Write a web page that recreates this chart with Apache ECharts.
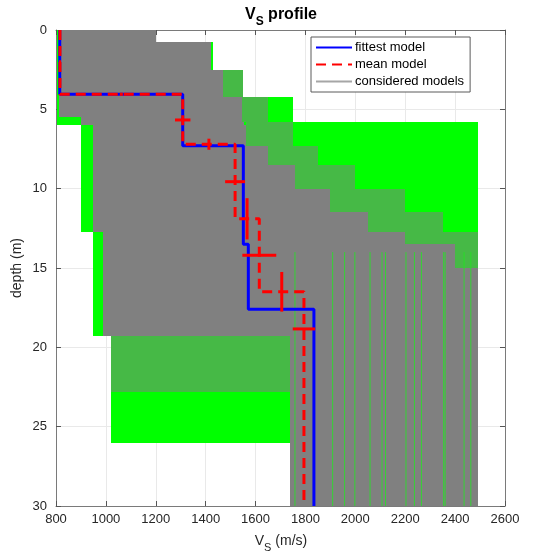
<!DOCTYPE html>
<html>
<head>
<meta charset="utf-8">
<script src="https://cdn.jsdelivr.net/npm/echarts@6/dist/echarts.min.js"></script>
<style>
  html, body { margin: 0; padding: 0; background: #fff; }
  #chart { width: 535px; height: 555px; }
</style>
</head>
<body>
<div id="chart"></div>
<script>
// layered models: top depth of each layer (m) and its shear velocity (m/s)
const fittestTop = [0, 4.05, 7.3, 13.5, 17.6];
const fittestVs = [815, 1308, 1551, 1571, 1834];
const meanTop = [0, 4.05, 7.2, 11.9, 16.5];
const meanVs = [816, 1308, 1518, 1615, 1794];
const maxDepth = 30;

// spread of the mean model: velocity bars at mid layer, depth bars at interfaces
const vsBarDepth = [2.0, 5.67, 9.56, 14.2, 18.84];
const vsBarStd = [4, 31, 40, 68, 45];
const depthBarVs = [1062, 1413, 1566, 1705];
const depthBarDepth = [4.05, 7.2, 11.9, 16.5];
const depthBarStd = [0.1, 0.35, 1.3, 1.25];

// range covered by the considered models (green), by depth slab
const rangeTop = [0, 0.77, 2.5, 4.2, 5.8, 6.0, 12.7, 19.3, 26.0];
const rangeBot = [0.77, 2.5, 4.2, 5.8, 6.0, 12.7, 19.3, 26.0, 30];
const rangeMin = [805, 805, 805, 805, 805, 900, 950, 1020, 1738];
const rangeMax = [1200, 1430, 1550, 1752, 2490, 2490, 2490, 2490, 2490];

// where the considered model lines pile up into solid gray
const denseTop = [0, 0.77, 2.5, 4.2, 5.5, 5.8, 6.0, 7.3, 8.5, 10, 11.5, 12.7, 13.5, 15, 19.3];
const denseBot = [0.77, 2.5, 4.2, 5.5, 5.8, 6.0, 7.3, 8.5, 10, 11.5, 12.7, 13.5, 15, 19.3, 30];
const denseMin = [812, 812, 812, 812, 900, 900, 950, 950, 950, 950, 950, 990, 990, 990, 1738];
const denseMax = [1200, 1420, 1470, 1545, 1545, 1555, 1560, 1650, 1760, 1900, 2050, 2200, 2400, 2490, 2490];

// sparser lines: gray and green mixed
const mixTop = [2.5, 4.2, 5.8, 7.3, 8.5, 10, 11.5, 12.7, 13.5, 19.3];
const mixBot = [4.2, 5.8, 7.3, 8.5, 10, 11.5, 12.7, 13.5, 15, 22.8];
const mixMin = [1470, 1545, 1560, 1650, 1760, 1900, 2050, 2200, 2400, 1020];
const mixMax = [1550, 1650, 1750, 1850, 2000, 2200, 2350, 2490, 2490, 1738];

// velocities left uncovered in the deep part (green shows through)
const gapVs = [1758, 1909, 1957, 1998, 2059, 2107, 2121, 2203, 2237, 2265, 2354, 2360, 2436, 2463];
const gapTop = 14;

const FONT = '"Liberation Sans", Arial, Helvetica, sans-serif';

function stepPath(tops, vs, bottom) {
  const pts = [];
  vs.forEach(function (v, i) {
    pts.push([v, tops[i]]);
    pts.push([v, i + 1 < tops.length ? tops[i + 1] : bottom]);
  });
  return pts;
}

function slabs(mins, maxs, tops, bots) {
  return mins.map(function (m, i) { return [m, maxs[i], tops[i], bots[i]]; });
}

function slabRender(color, opacity) {
  return function (params, api) {
    const a = api.coord([api.value(0), api.value(2)]);
    const b = api.coord([api.value(1), api.value(3)]);
    const x = Math.round(a[0]), y = Math.round(a[1]);
    return {
      type: 'rect',
      shape: { x: x, y: y, width: Math.round(b[0]) - x, height: Math.round(b[1]) - y },
      style: { fill: color, opacity: opacity, stroke: null }
    };
  };
}

function segRender(color, width, opacity) {
  return function (params, api) {
    const a = api.coord([api.value(0), api.value(1)]);
    const b = api.coord([api.value(2), api.value(3)]);
    return {
      type: 'line',
      shape: { x1: a[0], y1: a[1], x2: b[0], y2: b[1] },
      style: { stroke: color, lineWidth: width, opacity: opacity }
    };
  };
}

const errBars = [];
vsBarDepth.forEach(function (d, i) {
  const v = meanVs[i];
  errBars.push([v - vsBarStd[i], d, v + vsBarStd[i], d]);
});
depthBarVs.forEach(function (v, i) {
  const d = depthBarDepth[i];
  errBars.push([v, d - depthBarStd[i], v, d + depthBarStd[i]]);
});

const gaps = gapVs.map(function (v) { return [v, gapTop, v, maxDepth]; });

const chart = echarts.init(document.getElementById('chart'));

const axisCommon = {
  type: 'value',
  axisLine: { show: true, onZero: false, lineStyle: { color: '#7a7a7a', width: 1 } },
  axisTick: { show: true, inside: true, length: 5, lineStyle: { color: '#555' } },
  axisLabel: {
    color: '#262626', fontSize: 13, fontFamily: FONT,
    formatter: function (v) { return String(v); }
  },
  splitLine: { show: false }
};

chart.setOption({
  animation: false,
  grid: { left: 56, right: 30, top: 30, bottom: 49, containLabel: false },
  xAxis: [
    Object.assign({}, axisCommon, {
      min: 800, max: 2600, interval: 200, position: 'bottom',
      axisLabel: Object.assign({}, axisCommon.axisLabel, { margin: 7 }),
      splitLine: { show: true, lineStyle: { color: '#e9e9e9' } }
    }),
    Object.assign({}, axisCommon, {
      min: 800, max: 2600, interval: 200, position: 'top',
      axisLabel: { show: false }
    })
  ],
  yAxis: [
    Object.assign({}, axisCommon, {
      min: 0, max: 30, interval: 5, inverse: true, position: 'left',
      axisLabel: Object.assign({}, axisCommon.axisLabel, { margin: 9 }),
      splitLine: { show: true, lineStyle: { color: '#e9e9e9' } }
    }),
    Object.assign({}, axisCommon, {
      min: 0, max: 30, interval: 5, inverse: true, position: 'right',
      axisLabel: { show: false }
    })
  ],
  legend: {
    orient: 'vertical',
    left: 311, top: 37,
    padding: [3, 6, 3, 4],
    itemGap: 2,
    itemWidth: 36, itemHeight: 12,
    backgroundColor: '#fff',
    borderColor: '#5a5a5a', borderWidth: 1, borderRadius: 0,
    itemStyle: { opacity: 0, borderWidth: 0 },
    textStyle: { fontSize: 13, color: '#000', fontFamily: FONT, lineHeight: 15, padding: [0, 0, 0, -2] },
    data: ['fittest model', 'mean model', 'considered models']
  },
  graphic: [
    {
      type: 'text', x: 281, y: 7,
      style: {
        text: '{v|V}{s|S}{p| profile}',
        textAlign: 'center',
        rich: {
          v: { fontSize: 16, fontWeight: 'bold', fontFamily: FONT, lineHeight: 18, verticalAlign: 'top', fill: '#000' },
          s: { fontSize: 12, fontWeight: 'bold', fontFamily: FONT, lineHeight: 30, fill: '#000' },
          p: { fontSize: 16, fontWeight: 'bold', fontFamily: FONT, lineHeight: 18, verticalAlign: 'top', fill: '#000' }
        }
      }
    },
    {
      type: 'text', x: 281, y: 534,
      style: {
        text: '{v|V}{s|S}{p| (m/s)}',
        textAlign: 'center',
        rich: {
          v: { fontSize: 14, fontFamily: FONT, lineHeight: 16, verticalAlign: 'top', fill: '#262626' },
          s: { fontSize: 11, fontFamily: FONT, lineHeight: 27, fill: '#262626' },
          p: { fontSize: 14, fontFamily: FONT, lineHeight: 16, verticalAlign: 'top', fill: '#262626' }
        }
      }
    },
    {
      type: 'text', x: 17, y: 268, rotation: Math.PI / 2,
      style: {
        text: 'depth (m)', textAlign: 'center', textVerticalAlign: 'middle',
        fontSize: 14, fontFamily: FONT, fill: '#262626'
      }
    }
  ],
  series: [
    {
      name: 'range', type: 'custom', z: 1, silent: true,
      renderItem: slabRender('#00ff00', 1),
      encode: { x: [0, 1], y: [2, 3] },
      data: slabs(rangeMin, rangeMax, rangeTop, rangeBot)
    },
    {
      name: 'dense', type: 'custom', z: 2, silent: true,
      renderItem: slabRender('#808080', 1),
      encode: { x: [0, 1], y: [2, 3] },
      data: slabs(denseMin, denseMax, denseTop, denseBot)
    },
    {
      name: 'mixed', type: 'custom', z: 2, silent: true,
      renderItem: slabRender('#808080', 0.55),
      encode: { x: [0, 1], y: [2, 3] },
      data: slabs(mixMin, mixMax, mixTop, mixBot)
    },
    {
      name: 'gaps', type: 'custom', z: 3, silent: true,
      renderItem: segRender('#22e622', 1, 0.8),
      encode: { x: [0, 2], y: [1, 3] },
      data: gaps
    },
    {
      name: 'considered models', type: 'line', z: 3, symbol: 'none',
      lineStyle: { color: '#a6a6a6', width: 1 },
      itemStyle: { color: '#a6a6a6' },
      data: []
    },
    {
      name: 'fittest model', type: 'line', z: 5, symbol: 'none',
      lineStyle: { color: '#0000ff', width: 3 },
      itemStyle: { color: '#0000ff' },
      data: stepPath(fittestTop, fittestVs, maxDepth)
    },
    {
      name: 'mean model', type: 'line', z: 6, symbol: 'none',
      lineStyle: { color: '#ff0000', width: 3, type: [10, 6] },
      itemStyle: { color: '#ff0000' },
      data: stepPath(meanTop, meanVs, maxDepth)
    },
    {
      name: 'mean spread', type: 'custom', z: 7, silent: true,
      renderItem: segRender('#ff0000', 3, 1),
      encode: { x: [0, 2], y: [1, 3] },
      data: errBars
    }
  ]
});
</script>
</body>
</html>
